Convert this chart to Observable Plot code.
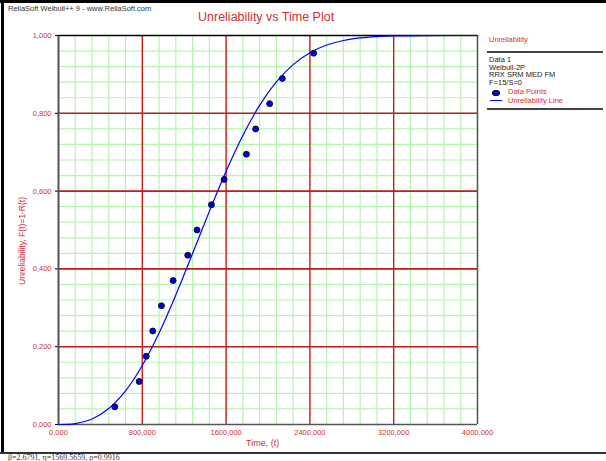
<!DOCTYPE html>
<html>
<head>
<meta charset="utf-8">
<script src="https://cdn.jsdelivr.net/npm/d3@7"></script>
<script src="https://cdn.jsdelivr.net/npm/@observablehq/plot@0.6"></script>
<style>
  html, body { margin: 0; padding: 0; background: #fff; }
  #wrap { position: relative; width: 606px; height: 461px; overflow: hidden; font-family: "Liberation Sans", Arial, sans-serif; }
  #wrap svg { position: absolute; left: 0; top: 0; }
  .t { position: absolute; white-space: nowrap; line-height: 1; }
  .red { color: #d03030; }
  .blk { color: #222; }
</style>
</head>
<body>
<div id="wrap">
  <div id="topbar" style="position:absolute;left:0;top:0;width:606px;height:3px;background:#000;"></div>
  <div id="leftbar" style="position:absolute;left:1px;top:0;width:3px;height:453px;background:#000;"></div>
  <div id="botbar" style="position:absolute;left:0;top:452px;width:606px;height:2px;background:#333;"></div>
  <div class="t blk" style="left:8px;top:5px;font-size:7.5px;color:#333;">ReliaSoft Weibull++ 9 - www.ReliaSoft.com</div>
  <div class="t red" style="left:198px;top:11px;font-size:12.5px;">Unreliability vs Time Plot</div>
  <div class="t red" style="left:489px;top:36px;font-size:7.5px;">Unreliability</div>
  <div style="position:absolute;left:487px;top:51px;width:116px;height:1.5px;background:#444;"></div>
  <div class="t blk" style="left:489px;top:56px;font-size:7.5px;">Data 1</div>
  <div class="t blk" style="left:489px;top:63.5px;font-size:7.5px;">Weibull-2P</div>
  <div class="t blk" style="left:489px;top:71px;font-size:7.5px;">RRX SRM MED FM</div>
  <div class="t blk" style="left:489px;top:78.5px;font-size:7.5px;">F=15/S=0</div>
  <div style="position:absolute;left:491.5px;top:89.5px;width:6px;height:4.5px;border-radius:50%;background:#0000e0;border:0.8px solid #000;"></div>
  <div class="t red" style="left:508px;top:88px;font-size:7.5px;">Data Points</div>
  <div style="position:absolute;left:490px;top:100px;width:12px;height:1.3px;background:#0000ff;"></div>
  <div class="t red" style="left:508px;top:97px;font-size:7.5px;">Unreliability Line</div>
  <div style="position:absolute;left:487px;top:108px;width:116px;height:1.5px;background:#444;"></div>
  <div class="t red" style="left:246px;top:439px;font-size:9px;">Time, (t)</div>
  <div class="t red" style="left:22px;top:241px;font-size:8.5px;transform:translate(-50%,-50%) rotate(-90deg);">Unreliability, F(t)=1-R(t)</div>
  <div class="t" style="left:8px;top:454px;font-size:8px;font-family:'Liberation Serif','DejaVu Serif',serif;color:#333;">β=2.6791, η=1569.5659, ρ=0.9916</div>
</div>
<script>
// Data points (time, median rank unreliability)
const pointTimes = [537, 770, 837, 900, 983, 1094, 1234, 1323, 1460, 1581, 1794, 1882, 2016, 2137, 2436];
const pointF = [0.0455, 0.1104, 0.1753, 0.2403, 0.3052, 0.3701, 0.4351, 0.5000, 0.5649, 0.6299, 0.6948, 0.7597, 0.8247, 0.8896, 0.9545];

// Unreliability line
const lineTimes = [0, 80, 160, 320, 480, 640, 800, 960, 1120, 1280, 1440, 1600, 1760, 1920, 2080, 2240, 2400, 2560, 2720, 2880, 3040, 3200, 3520, 4000];
const lineF = [0, 0.0003, 0.0022, 0.0140, 0.0410, 0.0864, 0.1516, 0.2350, 0.3330, 0.4396, 0.5479, 0.6510, 0.7431, 0.8202, 0.8807, 0.9252, 0.9558, 0.9755, 0.9872, 0.9938, 0.9972, 0.9988, 0.9998, 1.0];

// Tick labels
const xTicks = [0, 800, 1600, 2400, 3200, 4000];
const yTicks = [0, 0.2, 0.4, 0.6, 0.8, 1.0];
const xMinor = d3.range(0, 4001, 160);
const yMinor = d3.range(0, 1.0001, 0.04);

const points = pointTimes.map((t, i) => ({t, F: pointF[i]}));
const line = lineTimes.map((t, i) => ({t, F: lineF[i]}));
const fmt = d => d3.format(".3f")(d).replace(".", ",");

const chart = Plot.plot({
  width: 606,
  height: 461,
  marginLeft: 58,
  marginRight: 129,
  marginTop: 35,
  marginBottom: 37,
  style: {background: "transparent", fontFamily: "'Liberation Sans', Arial, sans-serif", fontSize: "7.5px", overflow: "visible"},
  x: {domain: [0, 4000]},
  y: {domain: [0, 1]},
  marks: [
    Plot.ruleX(xMinor, {stroke: "#b4f5ae", strokeWidth: 1.2}),
    Plot.ruleY(yMinor, {stroke: "#b4f5ae", strokeWidth: 1.2}),
    Plot.ruleX(xTicks.slice(1, -1), {stroke: "#cc1111", strokeWidth: 1.3}),
    Plot.ruleY(yTicks.slice(1, -1), {stroke: "#c41a1a", strokeWidth: 1.6}),
    Plot.ruleX([4000], {stroke: "#555", strokeWidth: 1.5}),
    Plot.ruleY([0], {stroke: "#555", strokeWidth: 1.5}),
    Plot.ruleX([0], {stroke: "#555", strokeWidth: 2}),
    Plot.ruleY([1], {stroke: "#000", strokeWidth: 1.5}),
    Plot.axisX({ticks: xTicks, tickFormat: fmt, tickSize: 0, tickPadding: 5, color: "#d03030", label: null}),
    Plot.axisY({ticks: yTicks, tickFormat: fmt, tickSize: 3, tickPadding: 4, color: "#d03030", stroke: "#000", label: null}),
    Plot.line(line, {x: "t", y: "F", stroke: "#0000ff", strokeWidth: 1.2, curve: "catmull-rom"}),
    Plot.dot(points, {x: "t", y: "F", r: 3, fill: "#0000e0", stroke: "#000", strokeWidth: 0.8})
  ]
});
document.getElementById("wrap").appendChild(chart);
</script>
</body>
</html>
